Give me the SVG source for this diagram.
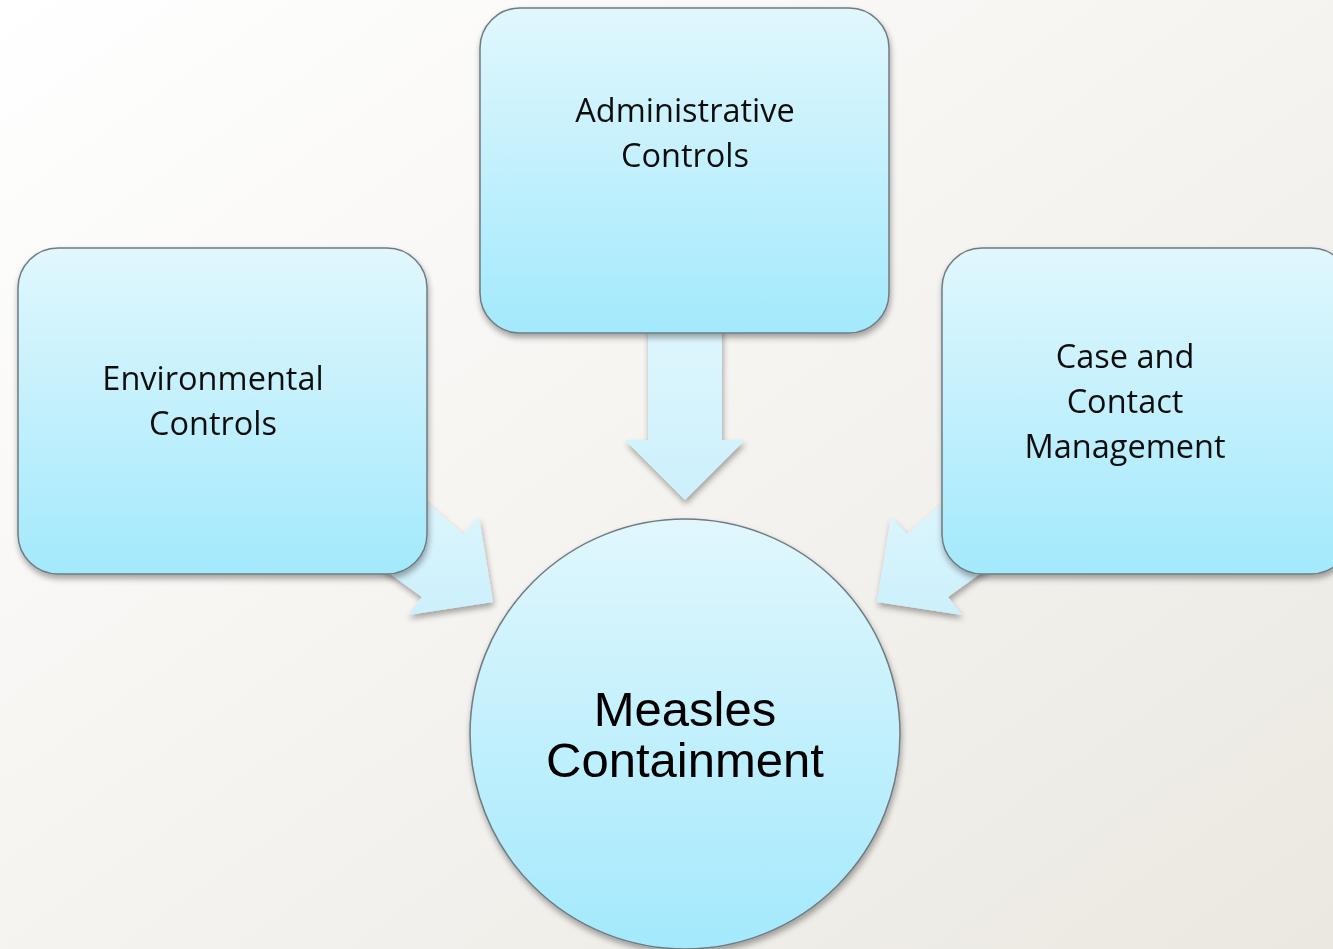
<svg xmlns="http://www.w3.org/2000/svg" width="1333" height="949" viewBox="0 0 1333 949">
<defs>
<linearGradient id="bg" x1="0" y1="0" x2="1" y2="1">
<stop offset="0" stop-color="#ffffff"/>
<stop offset="1" stop-color="#ebe8e1"/>
</linearGradient>
<linearGradient id="node" x1="0" y1="0" x2="0" y2="1">
<stop offset="0" stop-color="#e1f7fd"/>
<stop offset="1" stop-color="#a3e9fc"/>
</linearGradient>
<linearGradient id="arr" x1="0" y1="0" x2="0" y2="1">
<stop offset="0" stop-color="#dff6fd"/>
<stop offset="1" stop-color="#ccf0fc"/>
</linearGradient>
<filter id="sh" x="-20%" y="-20%" width="140%" height="140%">
<feGaussianBlur in="SourceAlpha" stdDeviation="3"/>
<feOffset dx="1" dy="4" result="b"/>
<feComponentTransfer><feFuncA type="linear" slope="0.35"/></feComponentTransfer>
<feMerge><feMergeNode/><feMergeNode in="SourceGraphic"/></feMerge>
</filter>
</defs>
<style>
.box{fill:url(#node);stroke:#6f7b80;stroke-width:1.5}
.arrow{fill:url(#arr);stroke:none}
.t{font-family:"Open Sans","Noto Sans",sans-serif;font-size:32.5px;fill:#111;text-anchor:middle}
.c{font-family:"Liberation Sans",Arial,sans-serif;font-size:49px;fill:#000;text-anchor:middle}
</style>
<rect width="1333" height="949" fill="url(#bg)"/>
<g id="connectors" filter="url(#sh)">
<polygon class="arrow" points="648,320 722,320 722,440 745,440 685,500 625,440 648,440"/>
<polygon class="arrow" points="400,480 463,534 479,517 493,602 408,615 422,597 360,552"/>
<polygon class="arrow" points="970,480 907,534 891,517 877,602 962,615 948,597 1010,552"/>
</g>
<g id="admin" filter="url(#sh)">
<rect class="box" x="480" y="8" width="409" height="325" rx="40"/>
<text class="t" x="685" y="122">Administrative</text>
<text class="t" x="685" y="167">Controls</text>
</g>
<g id="env" filter="url(#sh)">
<rect class="box" x="18" y="248" width="409" height="326" rx="40"/>
<text class="t" x="213" y="390">Environmental</text>
<text class="t" x="213" y="435">Controls</text>
</g>
<g id="case" filter="url(#sh)">
<rect class="box" x="942" y="248" width="409" height="326" rx="40"/>
<text class="t" x="1125" y="368">Case and</text>
<text class="t" x="1125" y="413">Contact</text>
<text class="t" x="1125" y="458">Management</text>
</g>
<g id="measles" filter="url(#sh)">
<circle class="box" cx="685" cy="734" r="215"/>
<text class="c" x="685" y="726">Measles</text>
<text class="c" x="685" y="777">Containment</text>
</g>
</svg>
